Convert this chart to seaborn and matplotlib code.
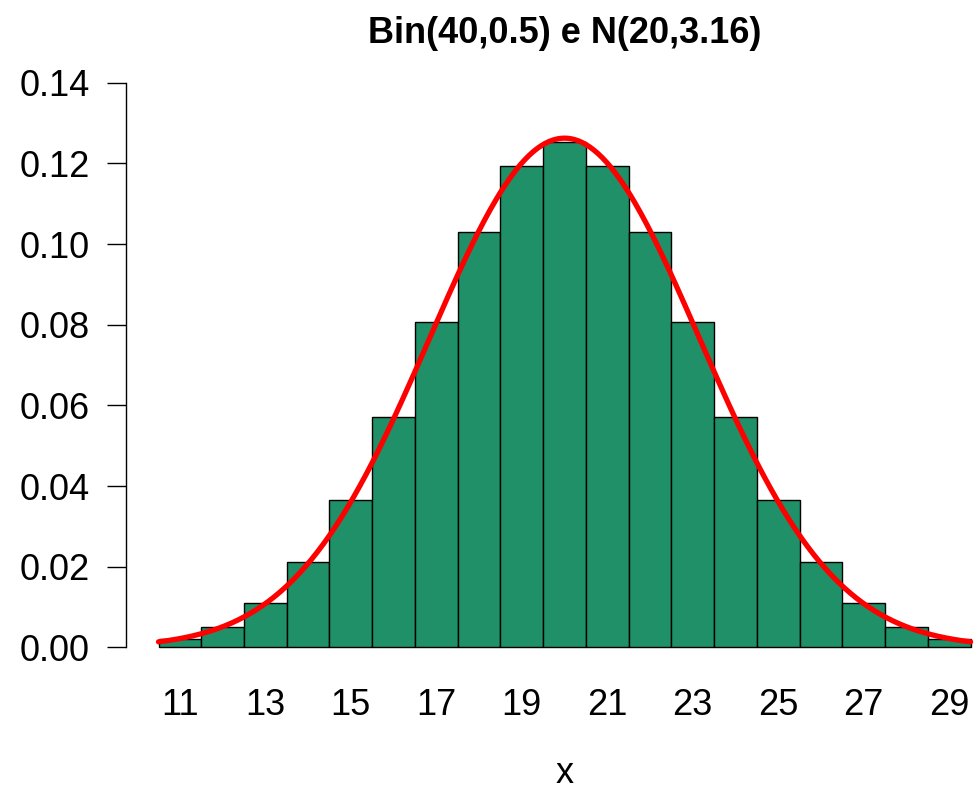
import matplotlib.pyplot as plt
import seaborn as sns
import numpy as np
import pandas as pd

# Bin(40, 0.5) probabilities
k_values = [11, 12, 13, 14, 15, 16, 17, 18, 19, 20,
            21, 22, 23, 24, 25, 26, 27, 28, 29]
probs = [0.0021, 0.0051, 0.0109, 0.0211, 0.0366, 0.0572, 0.0807, 0.1031, 0.1194, 0.1254,
         0.1194, 0.1031, 0.0807, 0.0572, 0.0366, 0.0211, 0.0109, 0.0051, 0.0021]
x_ticks = [11, 13, 15, 17, 19, 21, 23, 25, 27, 29]
y_ticks = [0.00, 0.02, 0.04, 0.06, 0.08, 0.10, 0.12, 0.14]
mu, sigma = 20, 3.16

df = pd.DataFrame({'k': k_values, 'p': probs})

# normal density overlay defined by the title parameters
xs = np.linspace(10.5, 29.5, 400)
curve = pd.DataFrame({'x': xs,
                      'd': np.exp(-0.5 * ((xs - mu) / sigma) ** 2) / (sigma * np.sqrt(2 * np.pi))})

sns.set_style('white')
plt.rcParams['font.family'] = ['Liberation Sans', 'DejaVu Sans']
plt.rcParams['text.color'] = 'black'
plt.rcParams['axes.labelcolor'] = 'black'
plt.rcParams['xtick.color'] = 'black'
plt.rcParams['ytick.color'] = 'black'

fig = plt.figure(figsize=(9.74, 7.91), dpi=100)
ax = fig.add_axes([0.1294, 0.153, 0.9004, 0.771])

sns.histplot(data=df, x='k', weights='p', discrete=True, stat='count',
             color='#1F9068', alpha=1, edgecolor='black', linewidth=1.0, ax=ax)
sns.lineplot(data=curve, x='x', y='d', color='#FF0000', linewidth=3.8, ax=ax)

ax.set_xlim(9.74, 30.26)
ax.set_ylim(-0.0056, 0.1456)

for side in ['top', 'right', 'bottom']:
    ax.spines[side].set_visible(False)
ax.spines['left'].set_bounds(0, 0.14)
ax.spines['left'].set_linewidth(1.0)
ax.spines['left'].set_color('black')

ax.set_xticks(x_ticks)
ax.set_xticklabels([str(v) for v in x_ticks])
ax.set_yticks(y_ticks)
ax.set_yticklabels([f'{v:.2f}' for v in y_ticks])
ax.tick_params(axis='x', length=0, labelsize=26, pad=13)
ax.tick_params(axis='y', length=14, width=1.0, labelsize=26, pad=12, left=True)

ax.set_xlabel('x', fontsize=26, labelpad=24)
ax.set_ylabel('')
ax.set_title('Bin(40,0.5) e N(20,3.16)', fontsize=26, fontweight='bold', pad=12)

fig.savefig('out.png', dpi=100)
